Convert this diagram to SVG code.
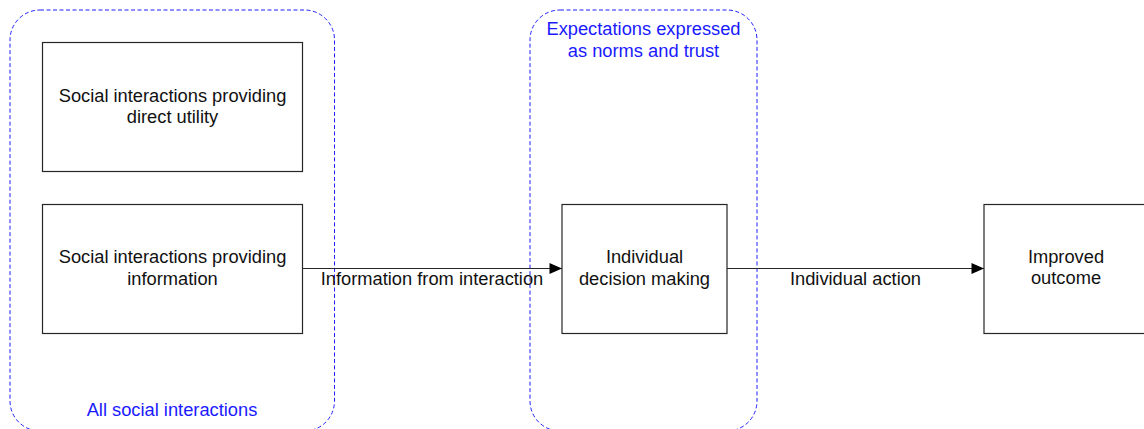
<svg xmlns="http://www.w3.org/2000/svg" width="1144" height="429" viewBox="0 0 1144 429">
  <style>
    .box { fill: #ffffff; stroke: #262626; stroke-width: 1.2; }
    .group { fill: none; stroke: #1f1fff; stroke-width: 1; stroke-dasharray: 4 2.5; }
    .lbl { font-family: "Liberation Sans", Arial, sans-serif; font-size: 18.3px; fill: #111111; text-anchor: middle; }
    .glbl { font-family: "Liberation Sans", Arial, sans-serif; font-size: 18.3px; fill: #1a1aff; text-anchor: middle; }
    .edge { fill: none; stroke: #262626; stroke-width: 1.2; }
  </style>
  <defs>
    <marker id="arrow" markerUnits="userSpaceOnUse" markerWidth="14" markerHeight="12" refX="13" refY="6" orient="auto">
      <path d="M0.5,0.5 L13,6 L0.5,11.5 Z" fill="#000000"/>
    </marker>
  </defs>
  <rect width="1144" height="429" fill="#ffffff"/>

  <!-- dashed grouping containers -->
  <g id="group-all-social">
    <rect class="group" x="10" y="10" width="324.5" height="421" rx="30" ry="30"/>
    <text class="glbl" x="172" y="416">All social interactions</text>
  </g>
  <g id="group-expectations">
    <rect class="group" x="530" y="10" width="227" height="421" rx="30" ry="30"/>
    <text class="glbl" x="643.5" y="35">Expectations expressed</text>
    <text class="glbl" x="643.5" y="56.7">as norms and trust</text>
  </g>

  <!-- connectors -->
  <g id="connectors">
    <path class="edge" d="M302.5,268.5 L562,268.5" marker-end="url(#arrow)"/>
    <text class="lbl" x="432" y="285">Information from interaction</text>
    <path class="edge" d="M727,268.5 L984,268.5" marker-end="url(#arrow)"/>
    <text class="lbl" x="855.5" y="285">Individual action</text>
  </g>

  <!-- nodes -->
  <g id="node-direct-utility">
    <rect class="box" x="42.5" y="42.5" width="260" height="129"/>
    <text class="lbl" x="172.5" y="101.5">Social interactions providing</text>
    <text class="lbl" x="172.5" y="123.3">direct utility</text>
  </g>
  <g id="node-information">
    <rect class="box" x="42.5" y="204.5" width="260" height="129"/>
    <text class="lbl" x="172.5" y="263">Social interactions providing</text>
    <text class="lbl" x="172.5" y="284.8">information</text>
  </g>
  <g id="node-decision">
    <rect class="box" x="562" y="204.5" width="165" height="129"/>
    <text class="lbl" x="644.5" y="263">Individual</text>
    <text class="lbl" x="644.5" y="284.8">decision making</text>
  </g>
  <g id="node-outcome">
    <rect class="box" x="984" y="204.5" width="165" height="129"/>
    <text class="lbl" x="1066" y="262.5">Improved</text>
    <text class="lbl" x="1066" y="284.3">outcome</text>
  </g>
</svg>
